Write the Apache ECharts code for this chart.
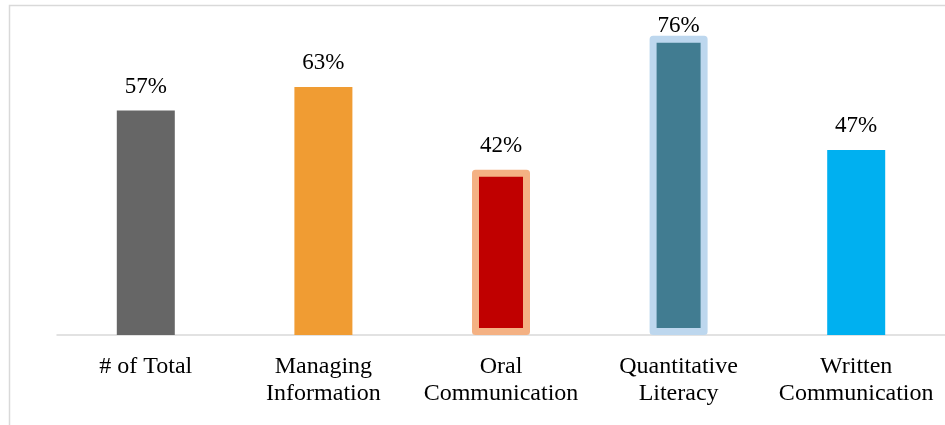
<!DOCTYPE html>
<html>
<head>
<meta charset="utf-8">
<script src="https://cdn.jsdelivr.net/npm/echarts@6/dist/echarts.min.js"></script>
<style>
  html, body { margin: 0; padding: 0; background: #fff; }
  #grafico { width: 945px; height: 425px; }
</style>
</head>
<body>
<div id="grafico"></div>
<script>
// Categorias e valores (em %)
const categorias = ["# of Total", "Managing\nInformation", "Oral\nCommunication", "Quantitative\nLiteracy", "Written\nCommunication"];
const valores = [57, 63, 42, 76, 47];
const cores = ["#666666", "#f09c33", "#c00000", "#417c91", "#00b0f0"];
const bordas = [null, null, "#f4b183", "#bdd7ee", null];

const FONTE = "'Liberation Serif', 'Times New Roman', serif";

const g = echarts.init(document.getElementById("grafico"));

g.setOption({
  animation: false,
  backgroundColor: "#fff",
  graphic: [{
    type: "rect",
    shape: { x: 9.5, y: 5.5, width: 1200, height: 1000 },
    style: { fill: "none", stroke: "#d9d9d9", lineWidth: 1.5 },
    silent: true,
  }],
  grid: { left: 57, width: 892, top: 20, bottom: 90 },
  xAxis: {
    type: "category",
    data: categorias,
    axisLine: { lineStyle: { color: "#d9d9d9", width: 1.5 } },
    axisTick: { show: false },
    axisLabel: {
      color: "#000",
      fontFamily: FONTE,
      fontSize: 24,
      lineHeight: 27,
      margin: 18,
      interval: 0,
    },
  },
  yAxis: {
    type: "value",
    min: 0,
    max: 80,
    show: false,
    splitLine: { show: false },
  },
  series: [{
    type: "bar",
    barWidth: 58,
    data: valores.map((v, i) => ({
      value: v,
      itemStyle: bordas[i]
        ? { color: cores[i], borderColor: bordas[i], borderWidth: 7, borderJoin: "round" }
        : { color: cores[i] },
      // rótulo do valor mais alto fica preso dentro da área (como no Excel)
      label: v === Math.max(...valores) ? { distance: -2 } : undefined,
    })),
    label: {
      show: true,
      position: "top",
      distance: 12,
      formatter: p => p.value + "%",
      color: "#000",
      fontFamily: FONTE,
      fontSize: 23,
    },
  }],
});
</script>
</body>
</html>
